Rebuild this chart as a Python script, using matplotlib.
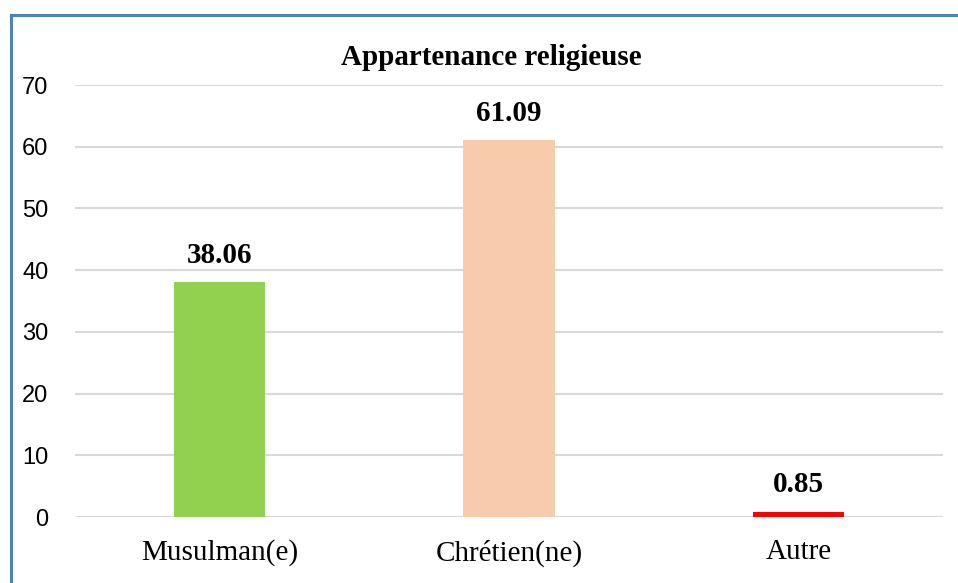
import matplotlib
matplotlib.use("Agg")
import matplotlib.pyplot as plt
from matplotlib.lines import Line2D

categories = ["Musulman(e)", "Chrétien(ne)", "Autre"]
values = [38.06, 61.09, 0.85]
labels = ["38.06", "61.09", "0.85"]
colors = ["#92D050", "#F8CBAD", "#FF0000"]
yticks = [0, 10, 20, 30, 40, 50, 60, 70]

W, H = 958, 583
fig = plt.figure(figsize=(W / 100, H / 100), dpi=100)
ax = fig.add_axes([75 / W, 1 - 517 / H, (943 - 75) / W, (517 - 85) / H])

x = list(range(len(categories)))
ax.bar(x, values, width=0.315, color=colors, zorder=3)
ax.set_xlim(-0.5, len(categories) - 0.5)
ax.set_ylim(0, 70)
ax.set_yticks(yticks)
ax.set_yticklabels([str(t) for t in yticks], fontfamily="Liberation Sans", fontsize=17)
ax.set_xticks(x)
ax.set_xticklabels(categories, fontfamily="Liberation Serif", fontsize=21)
ax.tick_params(axis="both", length=0)
ax.tick_params(axis="y", pad=19)
ax.tick_params(axis="x", pad=16)
ax.grid(axis="y", color="#D9D9D9", linewidth=1.5, zorder=0)
for s in ax.spines.values():
    s.set_visible(False)

for xi, v, lab in zip(x, values, labels):
    ax.annotate(lab, (xi, v), xytext=(0, 14), textcoords="offset points",
                ha="center", va="baseline", fontfamily="Liberation Serif",
                fontweight="bold", fontsize=21)

fig.text(491 / W, 1 - 65 / H, "Appartenance religieuse", ha="center", va="baseline",
         fontfamily="Liberation Serif", fontweight="bold", fontsize=21)

# border (top and left visible)
fig.add_artist(Line2D([10.5 / W, 1], [1 - 15 / H, 1 - 15 / H], color="#4F81BD", linewidth=2.2))
fig.add_artist(Line2D([10.5 / W, 10.5 / W], [0, 1 - 15 / H], color="#4F81BD", linewidth=2.2))

fig.savefig("out.png", dpi=100)
